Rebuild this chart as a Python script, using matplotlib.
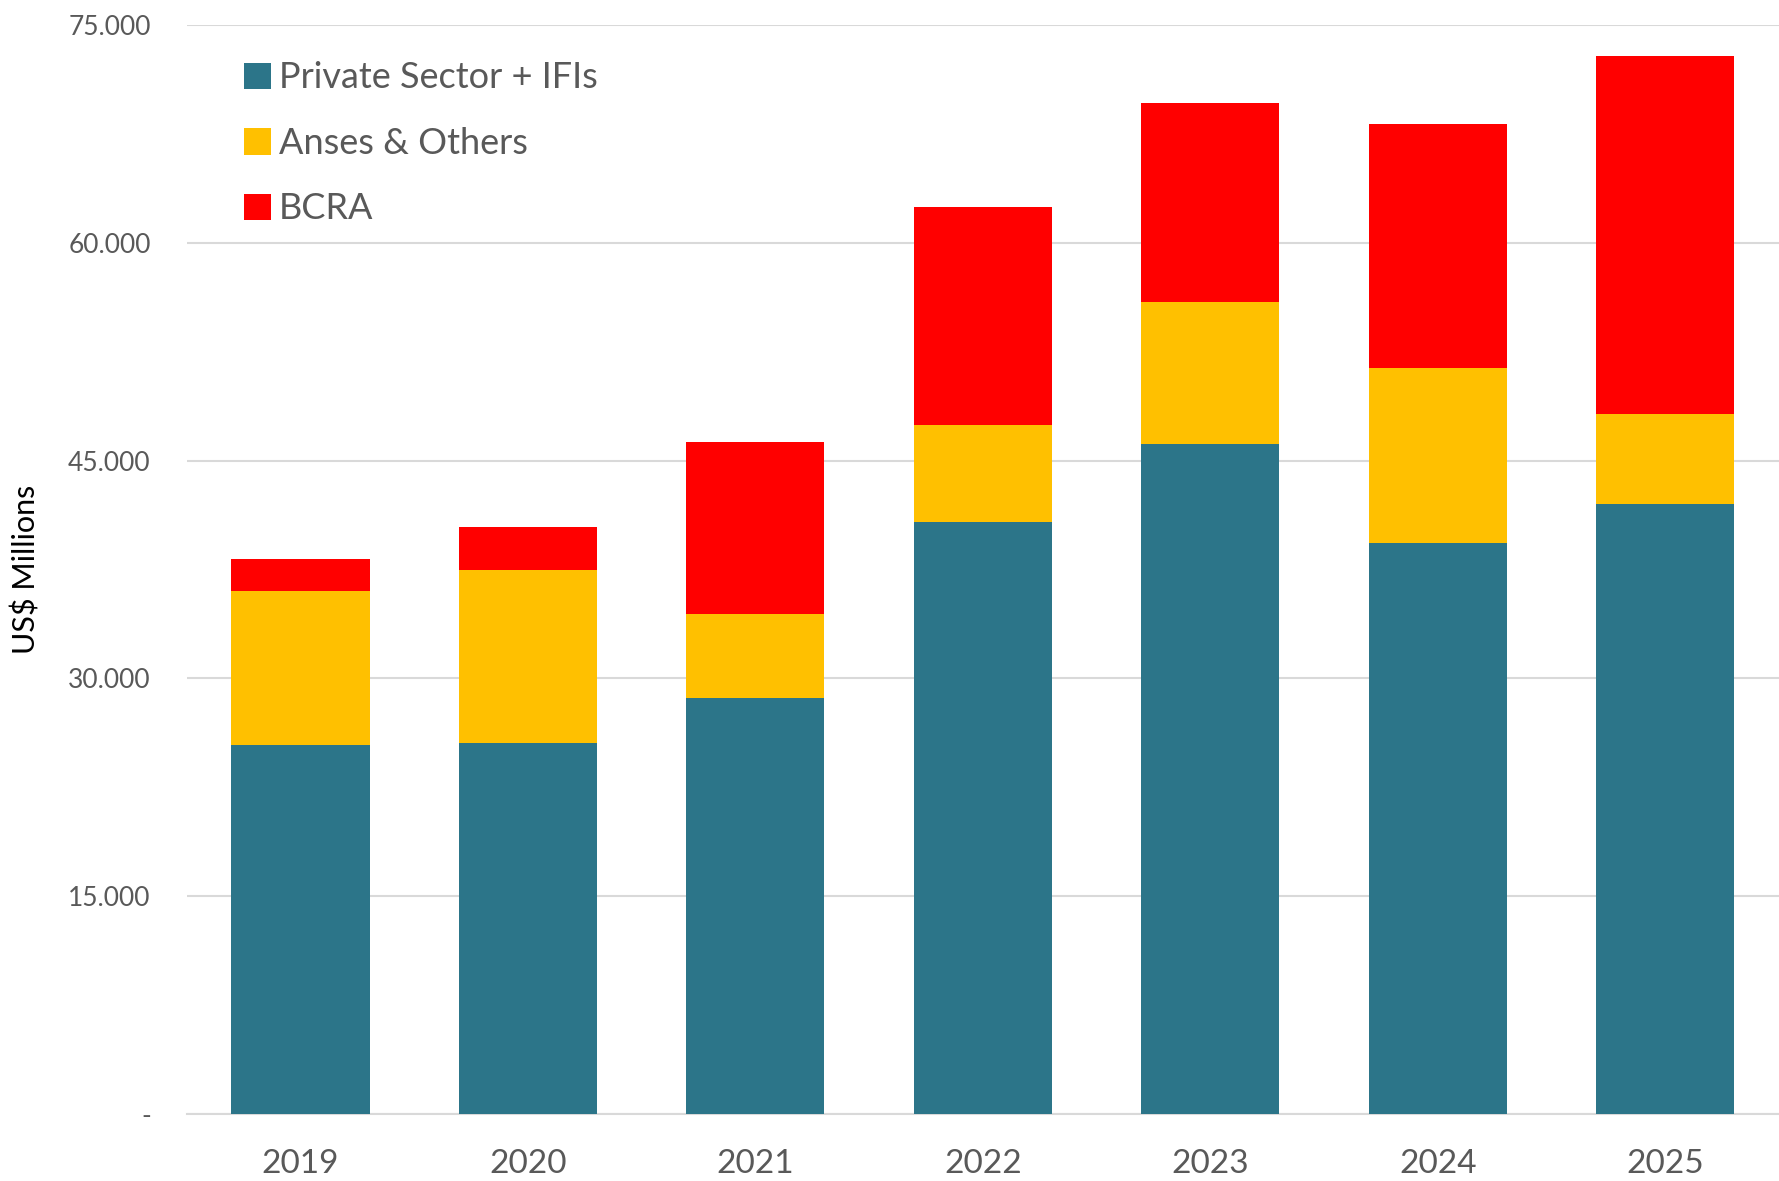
import matplotlib
matplotlib.use('Agg')
import matplotlib.pyplot as plt
from matplotlib.ticker import FuncFormatter
import numpy as np

plt.rcParams['font.family'] = ['Lato', 'DejaVu Sans']

# data (US$ millions)
years = ['2019', '2020', '2021', '2022', '2023', '2024', '2025']
private_ifis = [25400, 25550, 28650, 40800, 46150, 39300, 42050]
anses_others = [10600, 11950, 5800, 6650, 9750, 12100, 6150]
bcra = [2200, 2900, 11850, 15000, 13750, 16800, 24700]

teal = '#2C7589'
yellow = '#FFC000'
red = '#FF0000'
grey = '#595959'

fig = plt.figure(figsize=(17.79, 11.81), dpi=100)
ax = fig.add_axes([0.105, 0.0567, 0.895, 0.922])

x = np.arange(len(years))
w = 0.607
b1 = np.array(private_ifis)
b2 = b1 + np.array(anses_others)
ax.bar(x, private_ifis, w, color=teal, label='Private Sector + IFIs', zorder=3)
ax.bar(x, anses_others, w, bottom=b1, color=yellow, label='Anses & Others', zorder=3)
ax.bar(x, bcra, w, bottom=b2, color=red, label='BCRA', zorder=3)

ax.set_xlim(-0.5, len(years) - 0.5)
ax.set_ylim(0, 75000)
ax.set_yticks(np.arange(0, 75001, 15000))
ax.yaxis.set_major_formatter(FuncFormatter(
    lambda v, p: '-' if v == 0 else f'{int(v):,}'.replace(',', '.')))
ax.set_xticks(x)
ax.set_xticklabels(years)

ax.grid(axis='y', color='#D9D9D9', linewidth=1.5, zorder=0)
for s in ['top', 'right', 'left']:
    ax.spines[s].set_visible(False)
ax.spines['bottom'].set_color('#D9D9D9')
ax.spines['bottom'].set_linewidth(1.5)
ax.tick_params(axis='both', length=0)
ax.tick_params(axis='y', labelsize=19, labelcolor=grey, pad=26)
ax.tick_params(axis='x', labelsize=24, labelcolor=grey, pad=25)

ax.set_ylabel('US$ Millions', fontsize=22, color='black', labelpad=20)

leg = ax.legend(loc='upper left', bbox_to_anchor=(0.027, 0.98), frameon=False,
                fontsize=26, handlelength=0.75, handleheight=0.75,
                handletextpad=0.2, labelspacing=0.9, borderaxespad=0)
for t in leg.get_texts():
    t.set_color(grey)

fig.savefig('out.png', dpi=100)
